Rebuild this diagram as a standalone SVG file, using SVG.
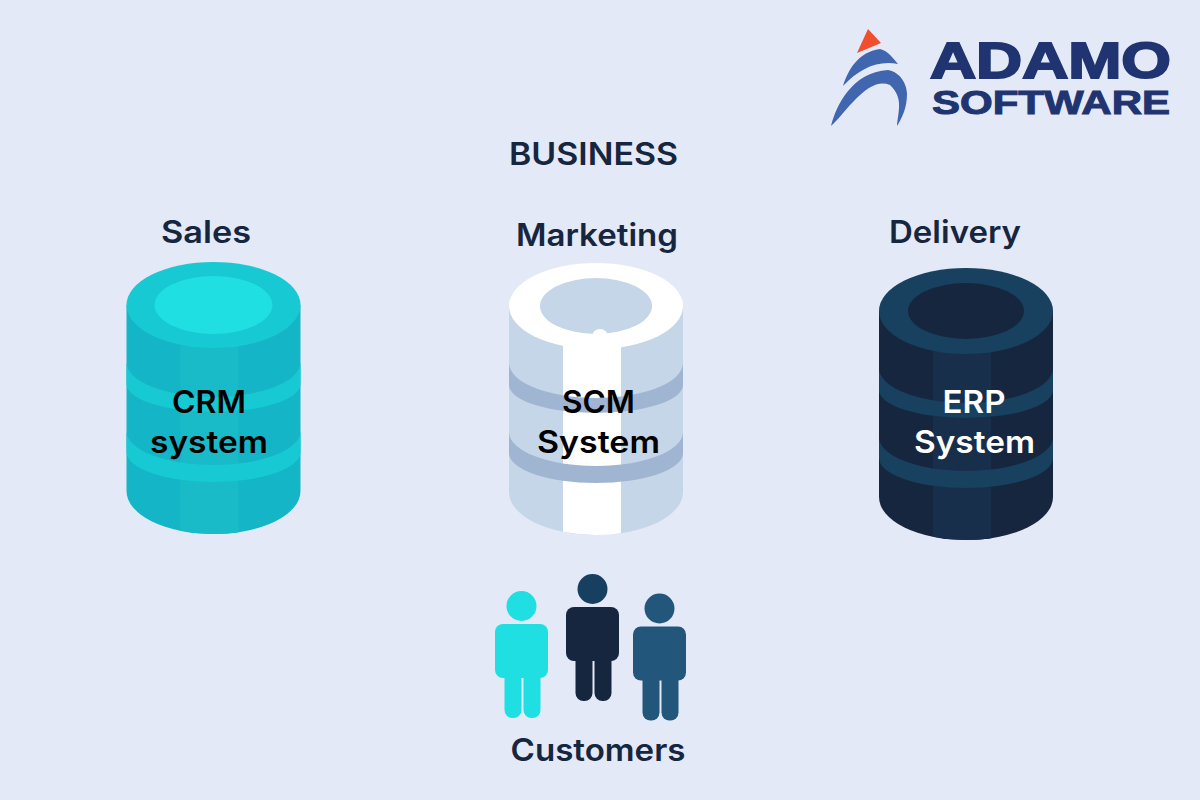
<svg xmlns="http://www.w3.org/2000/svg" width="1200" height="800" viewBox="0 0 1200 800">
<style>
text{font-family:"Inter","Liberation Sans",sans-serif;font-weight:600;fill:#17263f}
.h{font-size:31px}
.l{font-size:31px;fill:#000}
.w{fill:#fff}
.logo{font-family:"Liberation Sans",Arial,sans-serif;font-weight:700;fill:#1f3470;stroke:#1f3470}
.crm .b{fill:#14b5c6}.crm .s{fill:#18bbc7}.crm .r{fill:#16c9d2}.crm .i{fill:#20dfe2}.crm .n{fill:#16c9d2}
.scm .b{fill:#c5d6e8}.scm .s{fill:#fff}.scm .r{fill:#fff}.scm .i{fill:#c5d6e8}.scm .n{fill:#9fb5d1}
.erp .b{fill:#16263f}.erp .s{fill:#182f4c}.erp .r{fill:#18405f}.erp .i{fill:#16263f}.erp .n{fill:#18405f}
</style>
<defs>
<path id="body" d="M-87 0V186A87 43 0 0 0 87 186V0Z"/>
<path id="strip" d="M-33 30V225.8A87 43 0 0 0 25 227.2V30Z"/>
<path id="band1" d="M-87 57A87 35 0 0 0 87 57V79A87 28 0 0 1 -87 79Z"/>
<path id="band2" d="M-87 126A87 34 0 0 0 87 126V147A87 30 0 0 1 -87 147Z"/>
<g id="torso">
<rect x="-26.500" y="18" width="53" height="54" rx="8"/>
<rect x="-17" y="50" width="17" height="62" rx="8"/>
<rect x="2" y="50" width="17" height="62" rx="8"/>
</g>
</defs>
<rect width="1200" height="800" fill="#e3e9f6"/>
<g id="connectors"/>

<g id="logo">
<path fill="#f04e2e" d="M868 29L881 43L857 53Z"/>
<path fill="#3f66ae" d="M843 86C848 70 858 52 880 49C888 51 893 58 898 64C878 60 860 68 843 86Z"/>
<path fill="#3f66ae" d="M831 126C836 106 852 72 888 70C900 72 907 84 907 94C907 108 902 118 897 126C898 112 904 98 890 85C878 80 866 88 853 102C845 110 838 120 831 126Z"/>
<text class="logo" x="930" y="78" font-size="50" stroke-width="2" textLength="241" lengthAdjust="spacingAndGlyphs">ADAMO</text>
<text class="logo" x="932" y="114" font-size="33" stroke-width="1" textLength="238" lengthAdjust="spacingAndGlyphs">SOFTWARE</text>
</g>

<g id="business"><text class="h" x="593.500" y="165" text-anchor="middle" textLength="169" lengthAdjust="spacingAndGlyphs">BUSINESS</text></g>

<g id="sales"><text class="h" x="206" y="243" text-anchor="middle" textLength="90" lengthAdjust="spacingAndGlyphs">Sales</text></g>
<g id="marketing"><text class="h" x="597" y="246" text-anchor="middle" textLength="162" lengthAdjust="spacingAndGlyphs">Marketing</text></g>
<g id="delivery"><text class="h" x="955" y="243" text-anchor="middle" textLength="132" lengthAdjust="spacingAndGlyphs">Delivery</text></g>

<g id="crm-system" class="crm">
<g transform="translate(213.500 305)">
<use href="#body" class="b"/><use href="#strip" class="s"/><use href="#band1" class="n"/><use href="#band2" class="n"/>
<ellipse class="r" rx="87" ry="43"/><ellipse class="i" rx="59" ry="29"/>
</g>
<text class="l" x="209" y="413" text-anchor="middle" textLength="74" lengthAdjust="spacingAndGlyphs">CRM</text>
<text class="l" x="209" y="453" text-anchor="middle" textLength="118" lengthAdjust="spacingAndGlyphs">system</text>
</g>

<g id="scm-system" class="scm">
<g transform="translate(596 306)">
<use href="#body" class="b"/><use href="#strip" class="s"/><use href="#band1" class="n"/><use href="#band2" class="n"/>
<ellipse class="r" rx="87" ry="43"/><ellipse class="i" rx="56" ry="28"/>
<circle class="r" cx="4" cy="31" r="8"/>
</g>
<text class="l" x="598.500" y="413" text-anchor="middle" textLength="73" lengthAdjust="spacingAndGlyphs">SCM</text>
<text class="l" x="598.500" y="453" text-anchor="middle" textLength="123" lengthAdjust="spacingAndGlyphs">System</text>
</g>

<g id="erp-system" class="erp">
<g transform="translate(966 311)">
<use href="#body" class="b"/><use href="#strip" class="s"/><use href="#band1" class="n"/><use href="#band2" class="n"/>
<ellipse class="r" rx="87" ry="43"/><ellipse class="i" rx="58" ry="28"/>
</g>
<text class="l w" x="974" y="413" text-anchor="middle" textLength="63" lengthAdjust="spacingAndGlyphs">ERP</text>
<text class="l w" x="974.500" y="453" text-anchor="middle" textLength="121" lengthAdjust="spacingAndGlyphs">System</text>
</g>

<g id="customers">
<g transform="translate(521.500 606)" fill="#20dfe2"><circle r="15"/><use href="#torso"/></g>
<g transform="translate(592.500 589)"><circle r="15" fill="#163f60"/><use href="#torso" fill="#16263f"/></g>
<g transform="translate(659.500 608.500)" fill="#22567a"><circle r="15"/><use href="#torso"/></g>
<text class="h" x="598" y="761" text-anchor="middle" textLength="175" lengthAdjust="spacingAndGlyphs">Customers</text>
</g>
</svg>
